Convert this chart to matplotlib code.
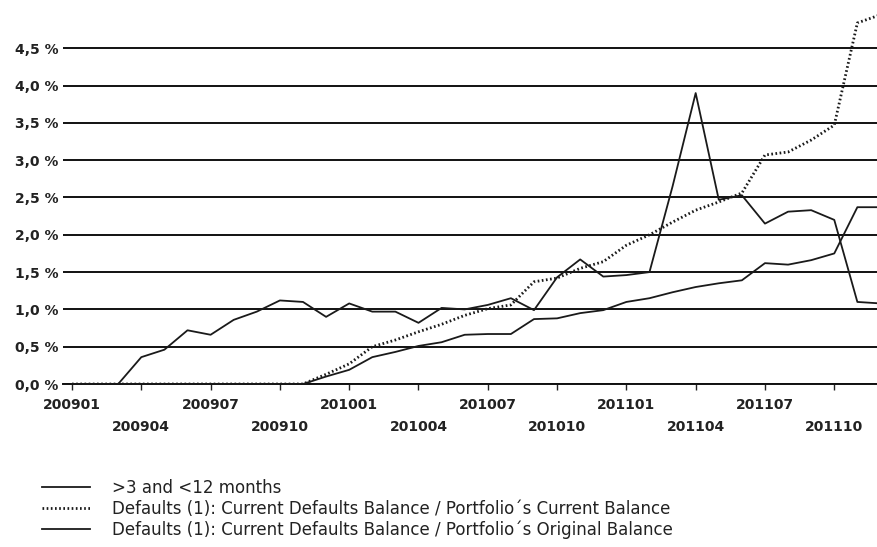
import matplotlib
matplotlib.use("Agg")
import matplotlib.pyplot as plt
from matplotlib.lines import Line2D

months = [f"{y}{m:02d}" for y in (2009, 2010, 2011) for m in range(1, 13)]

series_a_label = ">3 and <12 months"
series_b_label = "Defaults (1): Current Defaults Balance / Portfolio´s Current Balance"
series_c_label = "Defaults (1): Current Defaults Balance / Portfolio´s Original Balance"

series_a = [0, 0, 0, 0.36, 0.46, 0.72, 0.66, 0.86, 0.97, 1.12, 1.10, 0.90,
            1.08, 0.97, 0.97, 0.82, 1.02, 1.00, 1.06, 1.15, 0.99, 1.43, 1.67, 1.44,
            1.46, 1.50, 2.65, 3.90, 2.47, 2.53, 2.15, 2.31, 2.33, 2.20, 1.10, 1.08]
series_b = [0, 0, 0, 0, 0, 0, 0, 0, 0, 0, 0, 0.13,
            0.27, 0.50, 0.59, 0.70, 0.80, 0.92, 1.01, 1.06, 1.37, 1.42, 1.55, 1.64,
            1.86, 2.00, 2.17, 2.33, 2.44, 2.56, 3.07, 3.11, 3.27, 3.47, 4.84, 4.95]
series_c = [0, 0, 0, 0, 0, 0, 0, 0, 0, 0, 0, 0.10,
            0.19, 0.36, 0.43, 0.51, 0.56, 0.66, 0.67, 0.67, 0.87, 0.88, 0.95, 0.99,
            1.10, 1.15, 1.23, 1.30, 1.35, 1.39, 1.62, 1.60, 1.66, 1.75, 2.37, 2.37]

y_ticks = [0, 0.5, 1.0, 1.5, 2.0, 2.5, 3.0, 3.5, 4.0, 4.5]

fig = plt.figure(figsize=(8.77, 5.47), dpi=100)
ax = fig.add_axes([63 / 877, 1 - 384 / 547, 1 - 63 / 877, (384 - 11) / 547])

x = list(range(len(months)))
line_col = "#1a1a1a"
dot_style = (0, (0.6, 0.9))
ax.plot(x, series_a, color=line_col, lw=1.3, zorder=3)
ax.plot(x, series_b, color=line_col, lw=2.0, linestyle=dot_style, zorder=3)
ax.plot(x, series_c, color=line_col, lw=1.3, zorder=3)

ax.set_ylim(0, 5.0)
ax.set_xlim(-0.39, 34.85)
ax.set_yticks(y_ticks)
ax.set_yticklabels([f"{v:.1f}".replace(".", ",") + " %" for v in y_ticks],
                   fontsize=10, fontweight="bold", color="#222222")
ax.yaxis.grid(True, color="#111111", lw=1.4)
ax.set_axisbelow(True)
ax.tick_params(axis="y", length=0, pad=3)

ax.set_xticks(x[::3])
labels = []
for i, m in enumerate(months[::3]):
    labels.append(m if i % 2 == 0 else "\n" + m)
ax.set_xticklabels(labels, fontsize=10, fontweight="bold", color="#222222",
                   linespacing=1.7)
ax.tick_params(axis="x", length=4, width=1, direction="out", pad=6, color="#222222")

for s in ("top", "right", "left"):
    ax.spines[s].set_visible(False)
ax.spines["bottom"].set_color("#111111")
ax.spines["bottom"].set_linewidth(1.4)

handles = [
    Line2D([], [], color=line_col, lw=1.3),
    Line2D([], [], color=line_col, lw=2.0, linestyle=dot_style),
    Line2D([], [], color=line_col, lw=1.3),
]
fig.legend(handles, [series_a_label, series_b_label, series_c_label],
           loc="upper left", bbox_to_anchor=(42 / 877, 1 - 479 / 547),
           frameon=False, fontsize=12, handlelength=2.9, handletextpad=1.3,
           labelspacing=0.17, borderaxespad=0, borderpad=0,
           labelcolor="#222222")

fig.savefig("out.png", dpi=100)
